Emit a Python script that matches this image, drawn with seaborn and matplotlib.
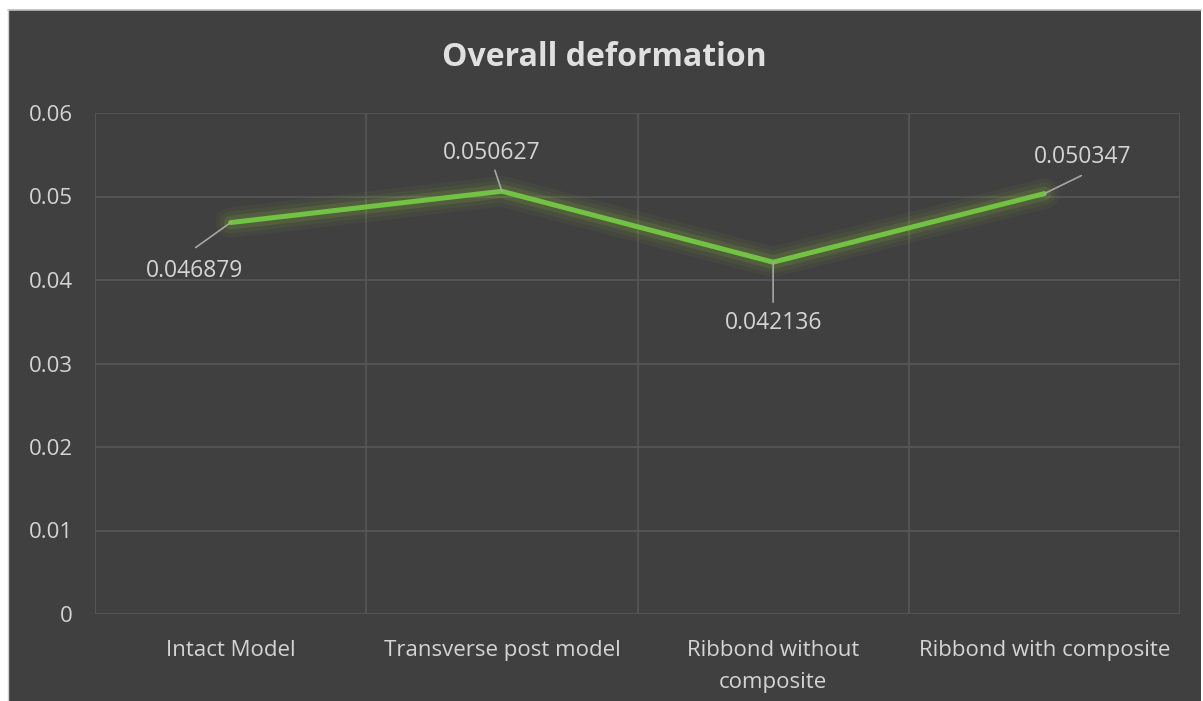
import matplotlib
matplotlib.use("Agg")
import matplotlib.pyplot as plt
from matplotlib.patches import Rectangle
from matplotlib.lines import Line2D
import seaborn as sns
import pandas as pd

# Data
categories = ["Intact Model", "Transverse post model", "Ribbond without\ncomposite", "Ribbond with composite"]
deformation = [0.046879, 0.050627, 0.042136, 0.050347]
label_text = ["0.046879", "0.050627", "0.042136", "0.050347"]
y_ticks = [0, 0.01, 0.02, 0.03, 0.04, 0.05, 0.06]
y_tick_labels = ["0", "0.01", "0.02", "0.03", "0.04", "0.05", "0.06"]

# Leader-line end and label centre offsets (pixels) from each point
leader_end = [(-35, -25), (-7, 21), (0, -40), (37, 18)]
text_pos = [(-36, -48), (-10, 38), (0, -61), (38, 37)]

BG = "#404040"
GRID = "#575757"
TEXT = "#d4d4d4"
LINE = "#72c244"

sns.set_theme(style="dark")
plt.rcParams["font.family"] = ["Open Sans", "DejaVu Sans"]

W, H = 1203, 701
fig = plt.figure(figsize=(W / 100, H / 100), dpi=100, facecolor="white")

# Chart area panel
fig.patches.append(Rectangle((8 / W, 0), (1201 - 8) / W, (H - 10) / H,
                             transform=fig.transFigure, facecolor=BG,
                             edgecolor="none", zorder=-10))
fig.lines.append(Line2D([8 / W, 1201 / W], [(H - 10) / H] * 2,
                        transform=fig.transFigure, color="#bdbdbd", lw=1.2, zorder=-9))
fig.lines.append(Line2D([8 / W, 8 / W], [0, (H - 10) / H],
                        transform=fig.transFigure, color="#cfcfcf", lw=1.0, zorder=-9))

left, right, top, bottom = 95, 1180, 113, 614
ax = fig.add_axes([left / W, (H - bottom) / H, (right - left) / W, (bottom - top) / H])
ax.set_facecolor(BG)

df = pd.DataFrame({"category": categories, "deformation": deformation})

# Soft glow under the series line
for lw, a in [(22, 0.06), (16, 0.09), (10, 0.16)]:
    ax.plot(range(len(deformation)), deformation, color="#86b03a", lw=lw,
            alpha=a, solid_capstyle="round", solid_joinstyle="round", zorder=2)

sns.lineplot(data=df, x="category", y="deformation", sort=False, color=LINE,
             lw=3.6, ax=ax, zorder=3)

ax.set_xlim(-0.5, len(categories) - 0.5)
ax.set_ylim(0, 0.06)
ax.set_yticks(y_ticks)
ax.set_yticklabels(y_tick_labels)
ax.set_xticks(range(len(categories)))
ax.set_xticklabels(categories, linespacing=1.65)
ax.tick_params(axis="y", colors=TEXT, labelsize=16, pad=16, length=0)
ax.tick_params(axis="x", colors=TEXT, labelsize=16, pad=19, length=0)
for lab in ax.get_xticklabels():
    lab.set_verticalalignment("top")
ax.set_xlabel("")
ax.set_ylabel("")

# Gridlines: horizontal at ticks, vertical at category boundaries
ax.set_xticks([i + 0.5 for i in range(-1, len(categories))], minor=True)
ax.grid(False)
ax.grid(True, axis="y", which="major", color=GRID, lw=1.2)
ax.grid(True, axis="x", which="minor", color=GRID, lw=1.2)
ax.tick_params(which="minor", length=0)
for s in ax.spines.values():
    s.set_visible(False)

# Data labels with leader lines
for i, (v, t) in enumerate(zip(deformation, label_text)):
    ax.annotate("", xy=(i, v), xytext=leader_end[i], textcoords="offset pixels",
                arrowprops=dict(arrowstyle="-", color="#a6a6a6", lw=1.2,
                                shrinkA=0, shrinkB=0), zorder=4)
    ax.annotate(t, xy=(i, v), xytext=text_pos[i], textcoords="offset pixels",
                ha="center", va="center", color=TEXT, fontsize=16.5, zorder=5)

fig.text((8 + 1201) / 2 / W, (H - 57) / H, "Overall deformation",
         ha="center", va="center", color="#e0e0e0", fontsize=23, fontweight="bold")

fig.savefig("out.png", dpi=100, facecolor="white")
